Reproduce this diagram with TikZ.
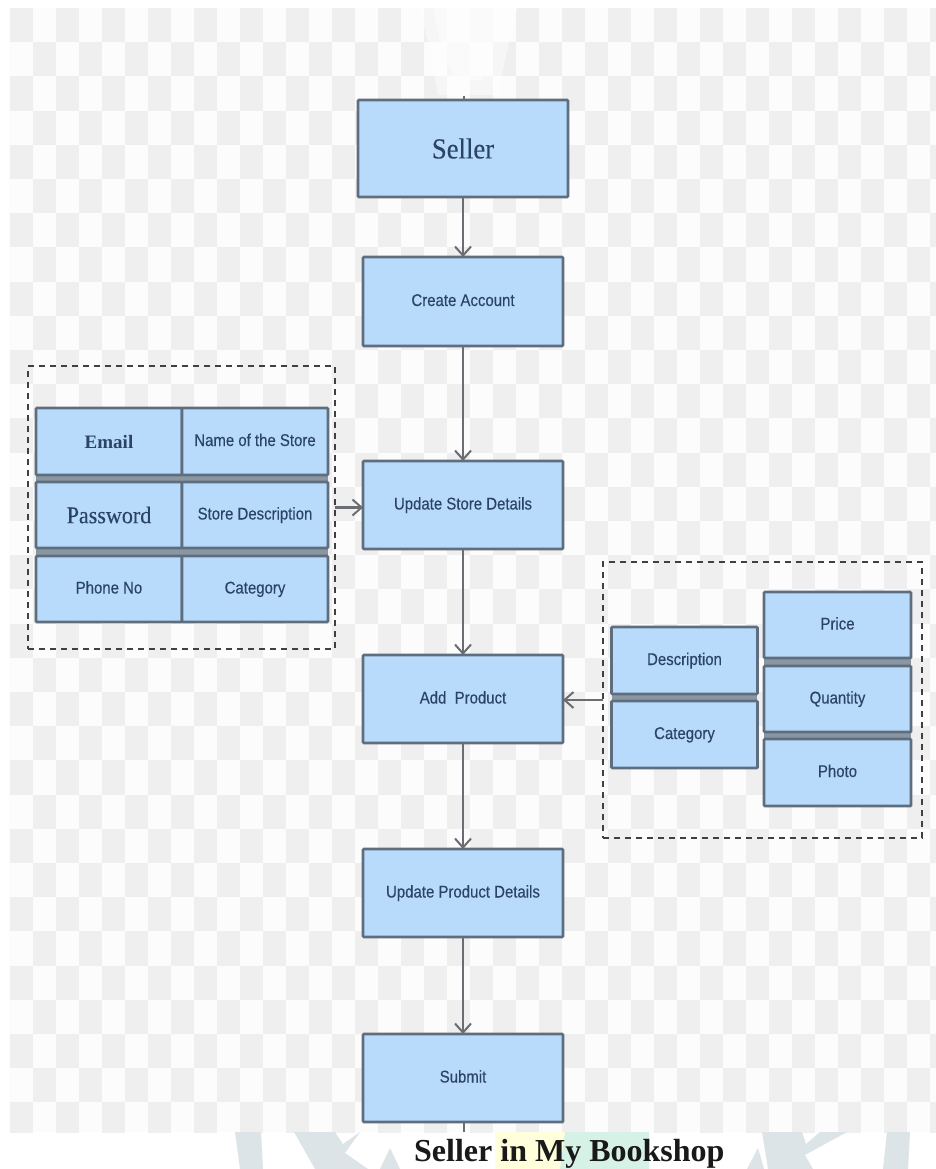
\documentclass[tikz,border=0pt]{standalone}
\usepackage{fontspec}
\setmainfont{Liberation Serif}
\newfontfamily\arialf[FakeStretch=0.88,FakeBold=0.25]{Liberation Sans}
\newfontfamily\serifn[FakeStretch=0.92,FakeBold=0.2]{Liberation Serif}
\usetikzlibrary{arrows.meta}
\definecolor{chk}{HTML}{EFEFEF}
\definecolor{chl}{HTML}{FCFCFC}
\definecolor{boxfill}{HTML}{B8DBFB}
\definecolor{boxline}{HTML}{5E6E7E}
\definecolor{gapbar}{HTML}{8A97A2}
\definecolor{inktxt}{HTML}{2B4466}
\definecolor{conn}{HTML}{6A6E72}
\definecolor{wmark}{HTML}{DCE4E8}
\definecolor{hly}{HTML}{FFFFDC}
\definecolor{hlg}{HTML}{D6F2E6}
\tikzset{
  fbox/.style={draw=boxline,fill=boxfill,line width=2.8pt,rounded corners=1pt,outer sep=0pt,inner sep=0pt,text=inktxt,align=center},
  sansl/.style={font=\arialf\fontsize{17}{20}\selectfont,text height=12pt,text depth=3pt},
  dashgroup/.style={draw=black!75,line width=1.6pt,dash pattern=on 6pt off 5pt,inner sep=0pt,outer sep=0pt},
  flow/.style={draw=conn,line width=2.8pt,-{Straight Barb[length=9pt,width=16pt,line width=2pt]}},
  stub/.style={draw=conn,line width=2.8pt},
}
\begin{document}
\begin{tikzpicture}[x=1pt,y=-1pt]
\useasboundingbox (0,0) rectangle (936,1169);
\fill[white] (0,0) rectangle (936,1169);
\begin{scope}
\clip (9,8) rectangle (936,1132);
\fill[chl] (9,8) rectangle (936,1132);
\foreach \r in {0,...,32}{
  \pgfmathsetmacro{\ya}{8+34.2*\r}
  \pgfmathsetmacro{\yb}{\ya+34.2}
  \pgfmathsetmacro{\off}{mod(\r,2)*23}
  \foreach \c in {0,...,20}{
    \pgfmathsetmacro{\xa}{9.5+\off+46*\c}
    \pgfmathsetmacro{\xb}{\xa+23}
    \fill[chk] (\xa,\ya) rectangle (\xb,\yb);
  }
}
\fill[white,opacity=.45] (418,4) -- (518,4) -- (505,60) -- (498,95) -- (438,95) -- (430,50) -- cycle;
\fill[white,opacity=.45] (432,4) -- (500,4) -- (490,60) -- (482,80) -- (455,80) -- (442,50) -- cycle;
\end{scope}
% watermark
\begin{scope}
\clip (0,1132) rectangle (936,1169);
\fill[wmark] (235,1132) -- (261,1132) -- (263,1169) -- (240,1169) -- cycle;
\fill[wmark] (294,1132) -- (335,1132) -- (343,1144) -- (360,1132) -- (345,1153) -- (368,1169) -- (315,1169) -- cycle;
\fill[wmark] (390,1148) -- (380,1169) -- (400,1169) -- cycle;
\fill[wmark] (747,1169) -- (758,1148) -- (764,1169) -- cycle;
\fill[wmark] (762,1132) -- (802,1132) -- (806,1144) -- (820,1132) -- (847,1132) -- (825,1144) -- (805,1155) -- (813,1169) -- (768,1169) -- cycle;
\fill[wmark] (887,1132) -- (910,1132) -- (908,1169) -- (883,1169) -- cycle;
\end{scope}
% caption
\fill[hly] (495,1132) rectangle (565,1169);
\fill[hlg] (565,1132) -- (649,1132) -- (649,1169) -- (560,1169) -- cycle;
\node[anchor=base west,inner sep=0pt,font=\bfseries\fontsize{32}{36}\selectfont,text=black!90] (caption) at (414,1161.5) {Seller in My Bookshop};
% bars between stacked rows
\fill[gapbar] (36,475) rectangle (328,482);
\fill[gapbar] (36,548) rectangle (328,556);
\fill[gapbar] (612,694) rectangle (757,701);
\fill[gapbar] (764,658) rectangle (911,666);
\fill[gapbar] (764,732) rectangle (911,739);
% main flow
\node[fbox,minimum width=210pt,minimum height=97pt,font=\serifn\fontsize{29}{34}\selectfont] (seller) at (463,148.5) {Seller};
\node[fbox,sansl,minimum width=200pt,minimum height=89pt] (create) at (463,301.5) {Create Account};
\node[fbox,sansl,minimum width=200pt,minimum height=88pt] (store) at (463,505) {Update Store Details};
\node[fbox,sansl,minimum width=200pt,minimum height=88pt] (add) at (463,699) {Add\ \ Product};
\node[fbox,sansl,minimum width=200pt,minimum height=88pt] (prod) at (463,893) {Update Product Details};
\node[fbox,sansl,minimum width=200pt,minimum height=88pt] (submit) at (463,1078) {Submit};
\coordinate (topend) at (464,96);
\coordinate (botend) at (464,1132);
% left table
\node[dashgroup,minimum width=307pt,minimum height=283pt] (leftgroup) at (181.5,507.5) {};
\node[fbox,minimum width=146pt,minimum height=67pt,font=\bfseries\fontsize{19}{22}\selectfont] (email) at (109,441.5) {Email};
\node[fbox,minimum width=146pt,minimum height=66pt,font=\serifn\fontsize{24}{28}\selectfont] (pass) at (109,515) {Password};
\node[fbox,sansl,minimum width=146pt,minimum height=67pt] (nameof) at (255,441.5) {Name of the Store};
\node[fbox,sansl,minimum width=146pt,minimum height=66pt] (sdesc) at (255,515) {Store Description};
\node[fbox,sansl,minimum width=146pt,minimum height=66pt] (phone) at (109,589) {Phone No};
\node[fbox,sansl,minimum width=146pt,minimum height=66pt] (scat) at (255,589) {Category};
% right table
\node[dashgroup,minimum width=319pt,minimum height=276pt] (rightgroup) at (762.5,700) {};
\node[fbox,sansl,minimum width=146pt,minimum height=67pt] (desc) at (684.5,660.5) {Description};
\node[fbox,sansl,minimum width=146pt,minimum height=67pt] (pcat) at (684.5,734.5) {Category};
\node[fbox,sansl,minimum width=147pt,minimum height=66pt] (price) at (837.5,625) {Price};
\node[fbox,sansl,minimum width=147pt,minimum height=66pt] (qty) at (837.5,699) {Quantity};
\node[fbox,sansl,minimum width=147pt,minimum height=67pt] (photo) at (837.5,772.5) {Photo};
% connectors
\draw[stub] (seller.north -| topend) -- (topend);
\draw[flow] (seller) -- (create);
\draw[flow] (create) -- (store);
\draw[flow] (store) -- (add);
\draw[flow] (add) -- (prod);
\draw[flow] (prod) -- (submit);
\draw[stub] (submit.south -| botend) -- (botend);
\draw[flow] (leftgroup.east) -- (store.west |- leftgroup.east);
\draw[flow] (rightgroup.west) -- (add.east |- rightgroup.west);
\end{tikzpicture}
\end{document}
